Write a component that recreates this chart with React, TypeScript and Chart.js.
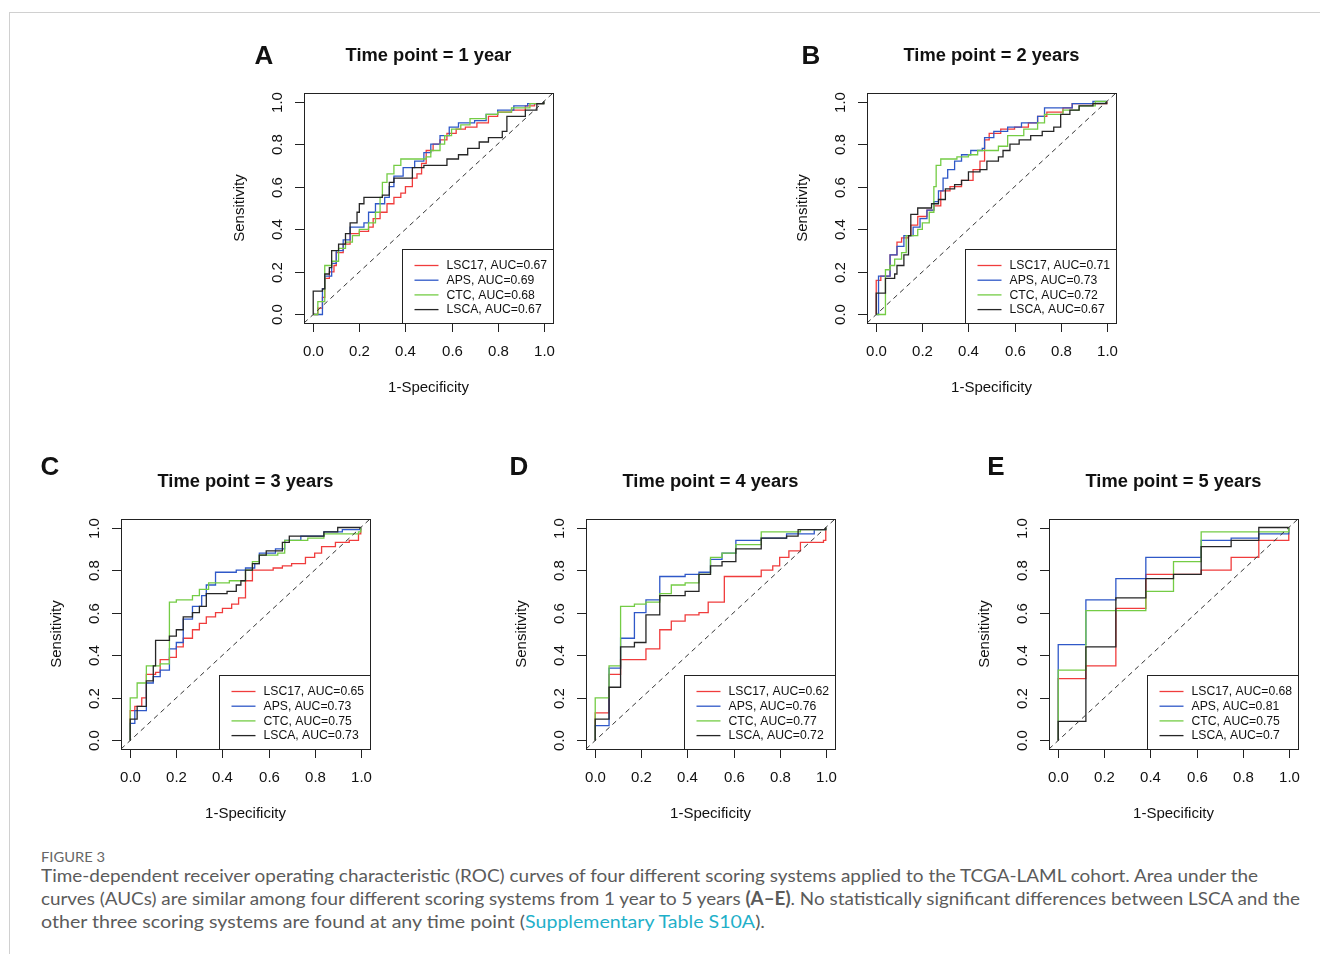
import React, { useEffect, useLayoutEffect, useRef } from "react";
import { Chart, registerables } from "chart.js";
Chart.register(...registerables);

type Pt = [number, number];

const SERIES_NAMES = ["LSC17", "APS", "CTC", "LSCA"];
const SERIES_COLORS = ["#f03c3c", "#2f58c8", "#74cc45", "#262626"];
const TICK_VALUES = [0, 0.2, 0.4, 0.6, 0.8, 1.0];
const TICK_LABELS = ["0.0", "0.2", "0.4", "0.6", "0.8", "1.0"];
const DIAGONAL: Pt[] = [[-0.04, -0.04], [1.04, 1.04]];

// Panel A: 1 year
const A_LSC17: Pt[] = [[0,0],[0.02,0.03],[0.04,0.08],[0.05,0.17],[0.07,0.2],[0.09,0.23],[0.1,0.29],[0.13,0.33],[0.16,0.38],[0.2,0.39],[0.24,0.41],[0.26,0.45],[0.29,0.48],[0.32,0.52],[0.35,0.55],[0.38,0.57],[0.4,0.6],[0.43,0.64],[0.45,0.66],[0.47,0.71],[0.49,0.77],[0.52,0.8],[0.55,0.82],[0.58,0.85],[0.62,0.87],[0.66,0.88],[0.71,0.9],[0.76,0.93],[0.8,0.95],[0.86,0.96],[0.92,0.98],[0.96,0.99],[1,1]];
const A_APS: Pt[] = [[0,0],[0.04,0.12],[0.05,0.18],[0.08,0.24],[0.1,0.3],[0.13,0.35],[0.16,0.41],[0.22,0.43],[0.24,0.48],[0.27,0.52],[0.31,0.55],[0.33,0.6],[0.35,0.65],[0.39,0.69],[0.44,0.72],[0.48,0.76],[0.51,0.8],[0.55,0.84],[0.59,0.88],[0.63,0.9],[0.7,0.91],[0.75,0.94],[0.8,0.96],[0.87,0.98],[0.93,0.99],[1,1]];
const A_CTC: Pt[] = [[0,0],[0.02,0.06],[0.05,0.23],[0.08,0.25],[0.11,0.31],[0.14,0.34],[0.17,0.37],[0.2,0.4],[0.24,0.43],[0.27,0.48],[0.29,0.55],[0.3,0.62],[0.32,0.66],[0.35,0.7],[0.38,0.73],[0.49,0.74],[0.51,0.77],[0.55,0.8],[0.57,0.84],[0.6,0.87],[0.64,0.89],[0.68,0.92],[0.75,0.94],[0.8,0.95],[0.86,0.97],[0.94,0.99],[1,1]];
const A_LSCA: Pt[] = [[0,0],[0,0.11],[0.04,0.12],[0.05,0.19],[0.07,0.22],[0.08,0.3],[0.11,0.33],[0.14,0.38],[0.16,0.43],[0.19,0.48],[0.2,0.52],[0.22,0.55],[0.3,0.56],[0.33,0.62],[0.35,0.64],[0.43,0.69],[0.48,0.7],[0.58,0.73],[0.63,0.75],[0.67,0.78],[0.72,0.81],[0.76,0.83],[0.82,0.86],[0.84,0.93],[0.92,0.96],[0.97,0.99],[1,1]];
const AUC_A = ["0.67", "0.69", "0.68", "0.67"];

// Panel B: 2 years
const B_LSC17: Pt[] = [[0,0],[0,0.16],[0.02,0.18],[0.06,0.28],[0.09,0.34],[0.11,0.36],[0.14,0.37],[0.15,0.42],[0.18,0.46],[0.22,0.49],[0.25,0.51],[0.28,0.58],[0.32,0.6],[0.37,0.63],[0.42,0.68],[0.45,0.72],[0.47,0.82],[0.49,0.85],[0.54,0.87],[0.6,0.88],[0.66,0.9],[0.7,0.93],[0.74,0.95],[0.81,0.97],[0.85,0.99],[0.93,0.99],[1,1]];
const B_APS: Pt[] = [[0,0],[0.01,0.18],[0.06,0.28],[0.09,0.32],[0.12,0.37],[0.16,0.41],[0.19,0.45],[0.22,0.49],[0.25,0.53],[0.27,0.58],[0.29,0.64],[0.31,0.68],[0.34,0.72],[0.37,0.75],[0.41,0.77],[0.46,0.78],[0.47,0.83],[0.51,0.86],[0.57,0.88],[0.63,0.9],[0.7,0.93],[0.73,0.97],[0.85,0.99],[0.94,1],[1,1]];
const B_CTC: Pt[] = [[0,0],[0.04,0.12],[0.04,0.21],[0.06,0.23],[0.08,0.26],[0.11,0.29],[0.13,0.37],[0.18,0.4],[0.2,0.43],[0.23,0.48],[0.25,0.6],[0.26,0.7],[0.28,0.73],[0.35,0.74],[0.4,0.75],[0.44,0.77],[0.53,0.79],[0.57,0.84],[0.64,0.87],[0.7,0.9],[0.73,0.94],[0.81,0.96],[0.88,0.98],[0.95,1],[1,1]];
const B_LSCA: Pt[] = [[0,0],[0,0.1],[0.04,0.17],[0.08,0.19],[0.09,0.23],[0.12,0.28],[0.14,0.37],[0.15,0.47],[0.18,0.5],[0.24,0.52],[0.27,0.54],[0.3,0.59],[0.34,0.61],[0.37,0.63],[0.4,0.67],[0.45,0.68],[0.48,0.72],[0.53,0.74],[0.55,0.77],[0.58,0.8],[0.62,0.82],[0.67,0.84],[0.72,0.86],[0.77,0.88],[0.8,0.94],[0.84,0.96],[0.88,0.98],[0.94,0.99],[1,1]];
const AUC_B = ["0.71", "0.73", "0.72", "0.67"];

// Panel C: 3 years
const C_LSC17: Pt[] = [[0,0],[0,0.14],[0.02,0.16],[0.05,0.2],[0.07,0.31],[0.11,0.32],[0.13,0.38],[0.17,0.39],[0.2,0.44],[0.23,0.48],[0.27,0.52],[0.3,0.55],[0.33,0.58],[0.37,0.6],[0.4,0.62],[0.44,0.64],[0.47,0.67],[0.5,0.75],[0.53,0.8],[0.62,0.81],[0.66,0.82],[0.7,0.83],[0.76,0.86],[0.8,0.88],[0.83,0.91],[0.89,0.93],[0.95,0.94],[0.99,0.97],[1,1]];
const C_APS: Pt[] = [[0,0],[0,0.08],[0.02,0.14],[0.07,0.27],[0.1,0.3],[0.13,0.33],[0.17,0.43],[0.2,0.46],[0.23,0.57],[0.27,0.63],[0.31,0.68],[0.33,0.73],[0.37,0.79],[0.46,0.8],[0.5,0.81],[0.54,0.83],[0.56,0.88],[0.63,0.9],[0.67,0.94],[0.74,0.96],[0.84,0.98],[0.92,0.99],[1,1]];
const C_CTC: Pt[] = [[0,0],[0,0.2],[0.03,0.27],[0.07,0.35],[0.13,0.36],[0.17,0.65],[0.2,0.66],[0.27,0.68],[0.3,0.71],[0.34,0.74],[0.43,0.75],[0.5,0.8],[0.53,0.84],[0.56,0.87],[0.64,0.88],[0.67,0.94],[0.77,0.95],[0.84,0.97],[0.99,0.98],[1,1]];
const C_LSCA: Pt[] = [[0,0],[0,0.1],[0.03,0.16],[0.07,0.28],[0.1,0.35],[0.11,0.47],[0.17,0.49],[0.2,0.52],[0.23,0.58],[0.27,0.6],[0.3,0.63],[0.33,0.69],[0.42,0.7],[0.46,0.73],[0.48,0.75],[0.5,0.8],[0.53,0.83],[0.56,0.87],[0.59,0.89],[0.66,0.93],[0.69,0.96],[0.84,0.98],[0.9,1],[1,1]];
const AUC_C = ["0.65", "0.73", "0.75", "0.73"];

// Panel D: 4 years
const D_LSC17: Pt[] = [[0,0],[0,0.13],[0.06,0.31],[0.11,0.38],[0.22,0.43],[0.28,0.52],[0.33,0.56],[0.39,0.59],[0.45,0.6],[0.49,0.65],[0.56,0.77],[0.72,0.8],[0.77,0.82],[0.8,0.86],[0.84,0.89],[0.89,0.93],[0.99,0.94],[1,1]];
const D_APS: Pt[] = [[0,0],[0,0.07],[0.06,0.34],[0.11,0.48],[0.17,0.6],[0.22,0.66],[0.28,0.77],[0.39,0.78],[0.45,0.79],[0.5,0.85],[0.55,0.88],[0.61,0.94],[0.72,0.95],[0.83,0.97],[0.95,0.99],[1,1]];
const D_CTC: Pt[] = [[0,0],[0,0.2],[0.06,0.35],[0.11,0.63],[0.17,0.64],[0.22,0.65],[0.28,0.69],[0.33,0.73],[0.39,0.74],[0.45,0.78],[0.5,0.86],[0.55,0.88],[0.61,0.92],[0.72,0.98],[0.89,0.99],[1,1]];
const D_LSCA: Pt[] = [[0,0],[0,0.1],[0.06,0.25],[0.11,0.44],[0.17,0.46],[0.22,0.59],[0.28,0.68],[0.39,0.7],[0.45,0.78],[0.5,0.82],[0.55,0.84],[0.61,0.9],[0.72,0.95],[0.83,0.96],[0.88,0.99],[1,1]];
const AUC_D = ["0.62", "0.76", "0.77", "0.72"];

// Panel E: 5 years
const E_LSC17: Pt[] = [[0,0],[0,0.29],[0.12,0.35],[0.25,0.62],[0.38,0.78],[0.62,0.8],[0.75,0.86],[0.87,0.94],[1,1]];
const E_APS: Pt[] = [[0,0],[0,0.45],[0.12,0.66],[0.25,0.76],[0.38,0.86],[0.62,0.94],[0.75,0.95],[0.87,0.97],[1,1]];
const E_CTC: Pt[] = [[0,0],[0,0.33],[0.12,0.61],[0.38,0.7],[0.5,0.84],[0.62,0.98],[1,1]];
const E_LSCA: Pt[] = [[0,0],[0,0.09],[0.12,0.44],[0.25,0.67],[0.38,0.76],[0.5,0.78],[0.62,0.91],[0.75,0.94],[0.87,1],[1,1]];
const AUC_E = ["0.68", "0.81", "0.75", "0.7"];

const BOX_W = 249;
const BOX_H = 230;
const PAD_L = 80;
const PAD_T = 50;
const PAD_R = 10;
const PAD_B = 80;
const FONT = "'Liberation Sans', Arial, Helvetica, sans-serif";

type PanelCfg = {
  letter: string;
  title: string;
  boxLeft: number;
  boxTop: number;
  letterX: number;
  letterY: number;
  curves: Pt[][];
  aucs: string[];
};

const PANELS: PanelCfg[] = [
  { letter: "A", title: "Time point = 1 year", boxLeft: 304, boxTop: 93, letterX: 264, letterY: 55, curves: [A_LSC17, A_APS, A_CTC, A_LSCA], aucs: AUC_A },
  { letter: "B", title: "Time point = 2 years", boxLeft: 867, boxTop: 93, letterX: 811, letterY: 55, curves: [B_LSC17, B_APS, B_CTC, B_LSCA], aucs: AUC_B },
  { letter: "C", title: "Time point = 3 years", boxLeft: 121, boxTop: 519, letterX: 50, letterY: 466, curves: [C_LSC17, C_APS, C_CTC, C_LSCA], aucs: AUC_C },
  { letter: "D", title: "Time point = 4 years", boxLeft: 586, boxTop: 519, letterX: 519, letterY: 466, curves: [D_LSC17, D_APS, D_CTC, D_LSCA], aucs: AUC_D },
  { letter: "E", title: "Time point = 5 years", boxLeft: 1049, boxTop: 519, letterX: 996, letterY: 466, curves: [E_LSC17, E_APS, E_CTC, E_LSCA], aucs: AUC_E },
];

const decorPlugin = {
  id: "rocDecor",
  afterDatasetsDraw(chart: any, _args: any, opts: any) {
    const ctx = chart.ctx as CanvasRenderingContext2D;
    const { left, right, top, bottom } = chart.chartArea;
    const xs = chart.scales.x;
    const ys = chart.scales.y;
    ctx.save();
    ctx.strokeStyle = "#222";
    ctx.fillStyle = "#111";
    ctx.lineWidth = 1;
    ctx.strokeRect(Math.round(left) + 0.5, Math.round(top) + 0.5, Math.round(right - left), Math.round(bottom - top));
    ctx.font = `15px ${FONT}`;
    ctx.textAlign = "center";
    ctx.textBaseline = "middle";
    TICK_VALUES.forEach((v, i) => {
      const px = Math.round(xs.getPixelForValue(v)) + 0.5;
      ctx.beginPath();
      ctx.moveTo(px, bottom);
      ctx.lineTo(px, bottom + 9);
      ctx.stroke();
      ctx.fillText(TICK_LABELS[i], px, bottom + 28.5);
    });
    TICK_VALUES.forEach((v, i) => {
      const py = Math.round(ys.getPixelForValue(v)) + 0.5;
      ctx.beginPath();
      ctx.moveTo(left - 9, py);
      ctx.lineTo(left, py);
      ctx.stroke();
      ctx.save();
      ctx.translate(left - 26.5, py);
      ctx.rotate(-Math.PI / 2);
      ctx.fillText(TICK_LABELS[i], 0, 0);
      ctx.restore();
    });
    const cx = (left + right) / 2;
    const cy = (top + bottom) / 2;
    ctx.fillText("1-Specificity", cx, bottom + 65);
    ctx.save();
    ctx.translate(left - 64, cy);
    ctx.rotate(-Math.PI / 2);
    ctx.fillText("Sensitivity", 0, 0);
    ctx.restore();
    ctx.font = `bold 18.3px ${FONT}`;
    ctx.fillText(opts.title, cx, top - 37);
    const lw = 151;
    const lh = 74;
    const lx = Math.round(right - lw) + 0.5;
    const ly = Math.round(bottom - lh) + 0.5;
    ctx.fillStyle = "#fff";
    ctx.fillRect(lx, ly, lw, lh);
    ctx.strokeStyle = "#222";
    ctx.strokeRect(lx, ly, lw, lh);
    ctx.font = `12.2px ${FONT}`;
    ctx.textAlign = "left";
    SERIES_NAMES.forEach((name, i) => {
      const ry = ly + 16 + i * 14.7;
      ctx.strokeStyle = SERIES_COLORS[i];
      ctx.lineWidth = 1.3;
      ctx.beginPath();
      ctx.moveTo(lx + 12, ry);
      ctx.lineTo(lx + 36, ry);
      ctx.stroke();
      ctx.fillStyle = "#111";
      ctx.fillText(`${name}, AUC=${opts.aucs[i]}`, lx + 44, ry + 0.5);
    });
    ctx.restore();
  },
};

function RocPanel({ cfg }: { cfg: PanelCfg }) {
  const ref = useRef<HTMLCanvasElement>(null);
  useEffect(() => {
    if (!ref.current) return;
    const datasets: any[] = [
      {
        label: "diag",
        data: DIAGONAL.map(([x, y]) => ({ x, y })),
        borderColor: "#333",
        borderWidth: 1,
        borderDash: [5, 4],
        pointRadius: 0,
        fill: false,
        order: 0,
      },
      ...cfg.curves.map((pts, i) => ({
        label: SERIES_NAMES[i],
        data: pts.map(([x, y]) => ({ x, y })),
        borderColor: SERIES_COLORS[i],
        borderWidth: 1.3,
        stepped: true,
        pointRadius: 0,
        fill: false,
        order: 5 - i,
      })),
    ];
    const chart = new Chart(ref.current, {
      type: "line",
      data: { datasets },
      options: {
        responsive: false,
        animation: false,
        devicePixelRatio: 1,
        layout: { padding: { left: PAD_L, top: PAD_T, right: PAD_R, bottom: PAD_B } },
        scales: {
          x: { type: "linear", min: -0.04, max: 1.04, display: false },
          y: { type: "linear", min: -0.04, max: 1.04, display: false },
        },
        plugins: {
          legend: { display: false },
          tooltip: { enabled: false },
          rocDecor: { title: cfg.title, aucs: cfg.aucs },
        } as any,
      },
      plugins: [decorPlugin],
    });
    return () => chart.destroy();
  }, [cfg]);
  const w = PAD_L + BOX_W + PAD_R;
  const h = PAD_T + BOX_H + PAD_B;
  return (
    <>
      <canvas
        ref={ref}
        width={w}
        height={h}
        style={{ position: "absolute", left: cfg.boxLeft - PAD_L, top: cfg.boxTop - PAD_T, width: w, height: h }}
      />
      <div
        style={{
          position: "absolute",
          left: cfg.letterX,
          top: cfg.letterY,
          transform: "translate(-50%, -50%)",
          font: `bold 26px ${FONT}`,
          lineHeight: 1,
          color: "#111",
        }}
      >
        {cfg.letter}
      </div>
    </>
  );
}

function FitLine({ top, width, fontSize, children, color }: any) {
  const ref = useRef<HTMLDivElement>(null);
  useLayoutEffect(() => {
    const el = ref.current;
    if (!el) return;
    el.style.transform = "none";
    const w = el.getBoundingClientRect().width;
    if (w > 0) el.style.transform = `scaleX(${width / w})`;
  }, [width]);
  return (
    <div
      ref={ref}
      style={{
        position: "absolute",
        left: 41,
        top,
        whiteSpace: "nowrap",
        transformOrigin: "0 0",
        fontFamily: "Lato, 'Open Sans', sans-serif",
        fontSize,
        lineHeight: 1.2,
        color: color || "#5b5b5b",
      }}
    >
      {children}
    </div>
  );
}

export default function App() {
  const LINK = "#1fb0c9";
  return (
    <div style={{ position: "absolute", left: 0, top: 0, width: 1320, height: 954, overflow: "hidden", background: "#fff" }}>
      <div style={{ position: "absolute", left: 10, top: 12, width: 1310, height: 1, background: "#d0d0d0" }} />
      <div style={{ position: "absolute", left: 9, top: 12, width: 1, height: 942, background: "#d0d0d0" }} />
      {PANELS.map((p) => (
        <RocPanel key={p.letter} cfg={p} />
      ))}
      <FitLine top={849} width={64} fontSize={14} color="#666">FIGURE 3</FitLine>
      <FitLine top={865} width={1217} fontSize={18}>
        Time-dependent receiver operating characteristic (ROC) curves of four different scoring systems applied to the TCGA-LAML cohort. Area under the
      </FitLine>
      <FitLine top={888} width={1259} fontSize={18}>
        curves (AUCs) are similar among four different scoring systems from 1 year to 5 years <b>(A–E)</b>. No statistically significant differences between LSCA and the
      </FitLine>
      <FitLine top={911} width={724} fontSize={18}>
        other three scoring systems are found at any time point (<span style={{ color: LINK }}>Supplementary Table S10A</span>).
      </FitLine>
    </div>
  );
}
